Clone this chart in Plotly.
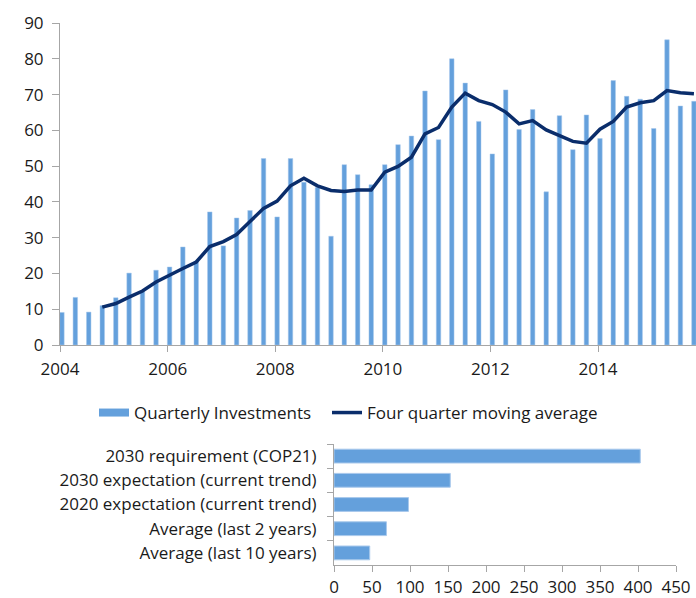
import pandas as pd
import plotly.graph_objects as go

# quarterly investment (top chart)
quarters = pd.period_range("2004Q1", "2015Q4", freq="Q")
quarterly_investments = [
    9.1, 13.3, 9.2, 11.0,
    13.2, 20.1, 15.0, 20.9,
    21.8, 27.4, 23.5, 37.2,
    27.7, 35.5, 37.6, 52.1,
    35.8, 52.1, 45.5, 44.0,
    30.4, 50.4, 47.6, 44.8,
    50.4, 56.0, 58.4, 71.0,
    57.4, 80.0, 73.2, 62.5,
    53.4, 71.3, 60.2, 65.8,
    42.8, 64.1, 54.6, 64.3,
    57.7, 73.9, 69.5, 68.7,
    60.5, 85.3, 66.8, 68.1,
]
moving_average = [
    None, None, None, 10.6,
    11.6, 13.4, 15.1, 17.6,
    19.6, 21.4, 23.2, 27.5,
    28.9, 30.9, 34.5, 38.2,
    40.2, 44.5, 46.6, 44.5,
    43.2, 42.9, 43.3, 43.3,
    48.3, 49.9, 52.5, 59.0,
    60.8, 66.5, 70.4, 68.3,
    67.2, 65.1, 61.8, 62.7,
    60.1, 58.4, 56.9, 56.4,
    60.3, 62.5, 66.5, 67.7,
    68.3, 71.1, 70.5, 70.2,
]

# comparison (bottom chart)
scenarios = [
    "2030 requirement (COP21)",
    "2030 expectation (current trend)",
    "2020 expectation (current trend)",
    "Average (last 2 years)",
    "Average (last 10 years)",
]
scenario_values = [403, 153, 98, 69, 47]

BAR = "#64a0dc"
LINE = "#0a2d6b"
AXIS = "#a6a6a6"
FONT = dict(family="Open Sans", size=17, color="#1a1a1a")

W, H = 696, 598


def px_x(p):
    return p / W


def px_y(p):
    return (H - p) / H


# bars sit a little after the quarter start
x_dates = quarters.to_timestamp() + pd.Timedelta(days=13)

fig = go.Figure()

fig.add_trace(go.Bar(
    x=x_dates, y=quarterly_investments,
    width=2.64e9,
    marker=dict(color=BAR, line=dict(color="#a9c9ec", width=0.5)),
    showlegend=False,
    xaxis="x", yaxis="y",
))
fig.add_trace(go.Scatter(
    x=x_dates, y=moving_average,
    mode="lines", line=dict(color=LINE, width=3.5),
    name="Four quarter moving average",
    legend="legend2",
    xaxis="x", yaxis="y",
))
# legend entry drawn as a wide swatch like the original
fig.add_trace(go.Scatter(
    x=[None], y=[None], mode="lines",
    line=dict(color=BAR, width=8),
    name="Quarterly Investments",
    legend="legend",
    xaxis="x", yaxis="y",
))

fig.add_trace(go.Bar(
    x=scenario_values, y=scenarios, orientation="h",
    marker=dict(color=BAR, line=dict(color="#a9c9ec", width=1)),
    showlegend=False,
    xaxis="x2", yaxis="y2",
))

legend_style = dict(
    orientation="h", xanchor="left", yanchor="middle",
    font=FONT, bgcolor="rgba(0,0,0,0)",
)

fig.update_layout(
    width=W, height=H,
    margin=dict(l=0, r=0, t=0, b=0),
    paper_bgcolor="white", plot_bgcolor="white",
    font=FONT,
    bargap=0.43,
    hovermode=False,
    showlegend=True,
    legend=dict(x=px_x(94), y=px_y(413), **legend_style),
    legend2=dict(x=px_x(327), y=px_y(413), **legend_style),
    xaxis=dict(
        domain=[px_x(60), 1], type="date",
        range=["2004-01-01", "2015-10-28"],
        tickvals=["2004-01-01", "2006-01-01", "2008-01-01", "2010-01-01",
                  "2012-01-01", "2014-01-01"],
        ticktext=["2004", "2006", "2008", "2010", "2012", "2014"],
        showline=True, linecolor=AXIS, linewidth=1,
        ticks="outside", ticklen=6, tickcolor=AXIS,
        ticklabelstandoff=3, automargin=False,
        showgrid=False, zeroline=False, anchor="y",
    ),
    yaxis=dict(
        domain=[px_y(345), px_y(23)],
        range=[0, 90], dtick=10,
        showline=True, linecolor=AXIS, linewidth=1,
        ticks="outside", ticklen=7, tickcolor=AXIS,
        ticklabelstandoff=5, automargin=False,
        showgrid=False, zeroline=False, anchor="x",
    ),
    xaxis2=dict(
        domain=[px_x(334), px_x(676)],
        range=[0, 450], dtick=50,
        showline=True, linecolor=AXIS, linewidth=1,
        ticks="outside", ticklen=6, tickcolor=AXIS,
        ticklabelstandoff=1, automargin=False,
        showgrid=False, zeroline=False, anchor="y2",
    ),
    yaxis2=dict(
        domain=[px_y(565), px_y(444)],
        type="category", autorange="reversed",
        showline=True, linecolor=AXIS, linewidth=1,
        ticks="outside", ticklen=6, tickcolor=AXIS, tickson="boundaries",
        ticklabelstandoff=13, automargin=False,
        showgrid=False, zeroline=False, anchor="x2",
    ),
)

# drop the default body margin so the figure fills the window exactly
fig.write_html(
    "out.html",
    config={"displayModeBar": False},
    post_script="document.body.style.margin = '0';",
)
